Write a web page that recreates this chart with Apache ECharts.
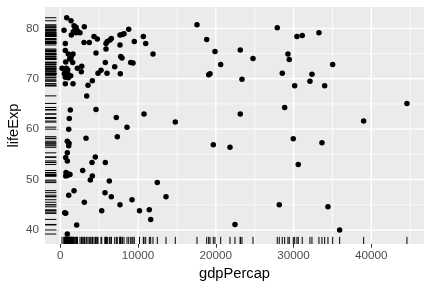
<!DOCTYPE html>
<html><head><meta charset="utf-8">
<script src="https://cdn.jsdelivr.net/npm/echarts@6/dist/echarts.min.js"></script>
<style>html,body{margin:0;padding:0;background:#fff}#c{width:432px;height:288px}</style>
</head><body><div id="c"></div>
<script>
const gdpPercap = [823,1376,476,1762,2019,1890,2186,2019,1672,1415,2533,3086,3048,3729,4334,4758,643,643,1029,1286,
1466,1633,1376,1209,694,1595,219,476,772,952,694,514,952,1029,1337,643,2186,2752,2701,643,
1633,3562,4115,3395,4591,4848,5234,5787,6006,5877,5877,6044,6391,6559,6996,7677,7973,8192,8796,7677,
7767,7935,7716,9053,9349,9516,10674,10982,11921,17580,18827,19084,19251,19894,1286,1157,1080,900,1119,4591,
7202,10764,8578,14789,7330,3305,19676,27906,30440,31121,33268,23148,20627,24781,29282,29449,35031,28549,32368,23367,
32111,30144,34002,28858,23148,44586,39017,29964,33654,21823,30607,28163,34427,22466,35931,1080,900,694,900,4501,
4077,5787,2881,733,1080,694,900,1247,4115,3858,6301,12474,1762,1080,5748,6559,13593,3086,7677,9221,
566,694,5324,10185,11445,11625,2109,900];
const lifeExp = [82.1,81.5,79.6,80.5,80.2,79.8,79.5,79.1,79.3,78.7,79.1,80.3,77.2,77.2,78.4,77.9,77.0,75.6,74.9,74.4,
74.7,74.9,74.1,73.9,73.3,73.2,72.1,71.9,72.1,71.8,71.5,71.0,71.0,70.2,70.6,70.3,72.1,72.5,71.4,69.0,
69.0,68.7,69.6,66.6,75.1,71.1,71.7,73.2,71.1,75.9,77.0,77.4,77.7,78.0,72.4,78.7,78.8,78.9,79.8,76.7,
74.4,74.1,71.0,73.2,73.1,77.4,78.4,77.0,74.9,80.7,77.8,70.8,71.0,75.4,63.8,62.1,60.0,57.6,57.2,63.9,
62.3,63.0,60.4,61.4,58.5,58.2,56.9,80.1,78.4,78.6,79.1,75.7,72.8,74.0,74.9,73.8,72.8,71.1,70.9,69.9,
69.5,68.6,68.6,64.3,63.0,65.1,61.6,58.1,57.3,56.4,53.0,45.0,44.6,41.1,40.0,56.7,55.3,54.4,53.7,54.5,
53.4,53.4,51.8,51.4,51.1,50.7,50.8,51.0,50.7,49.9,49.7,49.4,47.8,46.9,47.4,46.6,46.6,45.5,45.0,46.0,
43.4,43.3,43.8,43.8,44.0,42.1,41.0,39.2];
const xTicks = [0, 10000, 20000, 30000, 40000];
const xMinor = [5000, 15000, 25000, 35000, 45000];
const yTicks = [40, 50, 60, 70, 80];
const yMinor = [45, 55, 65, 75];
const xRange = [-1970, 46780];
const yRange = [37.22, 84.23];

const points = gdpPercap.map((g, i) => [g, lifeExp[i]]);
const gridData = [];
xTicks.forEach(v => gridData.push([v, yRange[0], 'x', 1.4]));
xMinor.forEach(v => gridData.push([v, yRange[0], 'x', 0.7]));
yTicks.forEach(v => gridData.push([xRange[0], v, 'y', 1.4]));
yMinor.forEach(v => gridData.push([xRange[0], v, 'y', 0.7]));

const chart = echarts.init(document.getElementById('c'), null, {renderer: 'canvas'});
const font = 'Liberation Sans, Arial, sans-serif';
chart.setOption({
  animation: false,
  grid: {left: 45, right: 8, top: 7, bottom: 44, show: true, backgroundColor: '#EBEBEB', borderWidth: 0,
         containLabel: false, outerBoundsMode: 'none'},
  xAxis: {
    type: 'value', min: xRange[0], max: xRange[1],
    name: 'gdpPercap', nameLocation: 'middle', nameGap: 22, nameMoveOverlap: false,
    nameTextStyle: {color: '#000', fontSize: 14.7, fontFamily: font},
    axisLine: {show: false},
    axisTick: {show: true, customValues: xTicks, length: 3.7, lineStyle: {color: '#333', width: 1}},
    axisLabel: {customValues: xTicks, color: '#4D4D4D', fontSize: 11.7, fontFamily: font, margin: 6,
                formatter: v => String(v)},
    splitLine: {show: false}
  },
  yAxis: {
    type: 'value', min: yRange[0], max: yRange[1],
    name: 'lifeExp', nameLocation: 'middle', nameGap: 24, nameMoveOverlap: false,
    nameTextStyle: {color: '#000', fontSize: 14.7, fontFamily: font},
    axisLine: {show: false},
    axisTick: {show: true, customValues: yTicks, length: 3.7, lineStyle: {color: '#333', width: 1}},
    axisLabel: {customValues: yTicks, color: '#4D4D4D', fontSize: 11.7, fontFamily: font, margin: 6,
                formatter: v => String(v)},
    splitLine: {show: false}
  },
  series: [
    {
      type: 'custom', z: 1, silent: true, data: gridData,
      renderItem: function (params, api) {
        const cs = params.coordSys;
        const p = api.coord([api.value(0), api.value(1)]);
        const w = api.value(3);
        const dir = gridData[params.dataIndex][2];
        let shape;
        if (dir === 'x') shape = {x1: p[0], y1: cs.y, x2: p[0], y2: cs.y + cs.height};
        else shape = {x1: cs.x, y1: p[1], x2: cs.x + cs.width, y2: p[1]};
        return {type: 'line', shape: shape, style: {stroke: '#FFFFFF', lineWidth: w}};
      }
    },
    {
      type: 'custom', z: 2, silent: true, data: points,
      renderItem: function (params, api) {
        const cs = params.coordSys;
        const p = api.coord([api.value(0), api.value(1)]);
        const bottom = cs.y + cs.height;
        return {type: 'group', children: [
          {type: 'line', shape: {x1: p[0], y1: bottom, x2: p[0], y2: bottom - 0.03 * cs.height}, style: {stroke: '#000', lineWidth: 1}},
          {type: 'line', shape: {x1: cs.x, y1: p[1], x2: cs.x + 0.03 * cs.width, y2: p[1]}, style: {stroke: '#000', lineWidth: 1}}
        ]};
      }
    },
    {
      type: 'scatter', z: 3, data: points, symbolSize: 5.5,
      itemStyle: {color: '#000', opacity: 1}, silent: true
    }
  ]
});
</script></body></html>
